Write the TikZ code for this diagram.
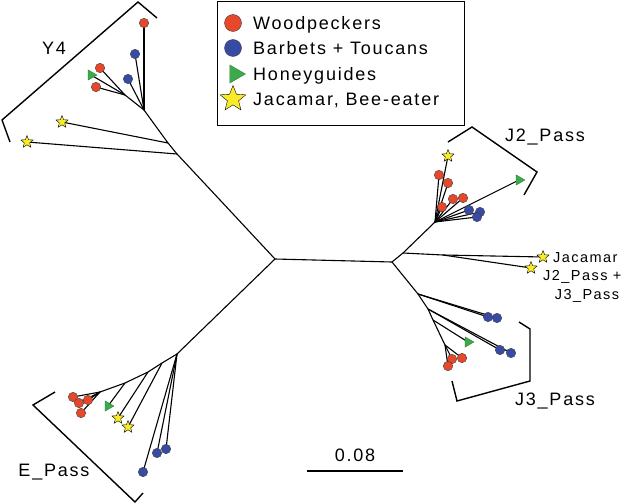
\documentclass[tikz,border=0pt]{standalone}
\usepackage{fontspec}
\setmainfont{Liberation Sans}[LetterSpace=10]
\usetikzlibrary{shapes.geometric}
\definecolor{wpred}{RGB}{232,72,42}
\definecolor{btblue}{RGB}{55,75,165}
\definecolor{hggreen}{RGB}{60,170,75}
\definecolor{jyellow}{RGB}{250,235,40}
\pgfdeclarelayer{bg}
\pgfsetlayers{bg,main}
\begin{document}
\begin{tikzpicture}[x=1pt,y=-1pt,
  br/.style={line width=1.4pt},
  edge/.style={line width=1.1pt},
  leafc/.style={circle, draw=black!75, line width=0.4pt, inner sep=0, minimum size=9.5pt},
  wp/.style={leafc, fill=wpred},
  bt/.style={leafc, fill=btblue},
  hg/.style={regular polygon, regular polygon sides=3, shape border rotate=-90, fill=hggreen, draw=hggreen!70!black, line width=0.3pt, inner sep=0, minimum size=12pt},
  jb/.style={star, star points=5, star point ratio=2.3, fill=jyellow, draw=black, line width=0.4pt, inner sep=0, minimum size=13pt},
  lbl/.style={font=\fontsize{18}{20}\selectfont, inner sep=0},
  sm/.style={font=\fontsize{14.5}{16}\selectfont, inner sep=0}]
\useasboundingbox (0,0) rectangle (626,503);

% legend
\node[draw, line width=0.9pt, inner sep=0, minimum width=247pt, minimum height=124pt, anchor=north west] (leg) at (217,1) {};
\node[wp, minimum size=17pt] (lw) at (233,23) {};
\node[bt, minimum size=17pt] (lb) at (233,48) {};
\node[hg, minimum size=21pt] (lh) at (235,74) {};
\node[jb, minimum size=27pt] (lj) at (233,99) {};
\node[lbl, anchor=base west] (tw) at (253,29.4) {Woodpeckers};
\node[lbl, anchor=base west] (tb) at (253,54.4) {Barbets + Toucans};
\node[lbl, anchor=base west] (th) at (253,80.4) {Honeyguides};
\node[lbl, anchor=base west] (tj) at (253,105.4) {Jacamar, Bee-eater};

% centre
\coordinate (C1) at (275,259);
\coordinate (C2) at (392,262);

% Y4
\coordinate (Ym) at (220,200);
\coordinate (Ya) at (177,154);
\coordinate (Yb) at (168,143);
\coordinate (Y) at (144,110);
\coordinate (Yl) at (125,95);
\node[jb] (ys1) at (62,122) {};
\node[jb] (ys2) at (27,142) {};
\node[wp] (yr1) at (144,23) {};
\node[bt] (yb1) at (135,54) {};
\node[bt] (yb2) at (128,79) {};
\node[wp] (yr2) at (100,68) {};
\node[hg] (yg) at (91,75) {};
\node[wp] (yr3) at (96,87) {};

% J2
\coordinate (P) at (403,253);
\coordinate (J) at (435,222);
\coordinate (Q) at (443,255);
\node[jb] (jac) at (543,257) {};
\node[jb] (j23) at (531,268) {};
\node[jb] (js) at (448,156) {};
\node[wp] (jr1) at (439,175) {};
\node[wp] (jr2) at (448,183) {};
\node[wp] (jr3) at (453,199) {};
\node[wp] (jr4) at (463,198) {};
\node[wp] (jr5) at (442,207) {};
\node[bt] (jb1) at (469,210) {};
\node[bt] (jb2) at (480,212) {};
\node[bt] (jb3) at (477,217) {};
\node[hg] (jg) at (519,180) {};

% J3
\coordinate (K1) at (418,294);
\coordinate (K2) at (428,309);
\coordinate (K3) at (433,320);
\coordinate (K4) at (445,345);
\node[bt] (kb1) at (488,317) {};
\node[bt] (kb2) at (497,318) {};
\node[bt] (kb3) at (500,350) {};
\node[bt] (kb4) at (511,353) {};
\node[hg] (kg) at (468,342) {};
\node[wp] (kr1) at (452,359) {};
\node[wp] (kr2) at (462,358) {};
\node[wp] (kr3) at (448,366) {};

% E
\coordinate (E0) at (177,354);
\coordinate (E1) at (162,363);
\coordinate (E2) at (148,372);
\coordinate (E3) at (125,383);
\coordinate (Er) at (100,392);
\node[wp] (er1) at (73,397) {};
\node[wp] (er2) at (79,403) {};
\node[wp] (er3) at (88,400) {};
\node[wp] (er4) at (81,413) {};
\node[hg] (eg) at (108,406) {};
\node[jb] (es1) at (118,418) {};
\node[jb] (es2) at (128,427) {};
\node[bt] (eb1) at (166,449) {};
\node[bt] (eb2) at (157,453) {};
\node[bt] (eb3) at (143,472) {};

\begin{pgfonlayer}{bg}
\draw[edge] (C1) -- (C2);
\draw[edge] (C1) -- (Ym) -- (Ya) -- (Yb) -- (Y);
\draw[edge] (Ya) -- (ys2.center);
\draw[edge] (Yb) -- (ys1.center);
\draw[edge] (Y) -- (yr1.center);
\draw[edge] (Y) -- (yb1.center);
\draw[edge] (Y) -- (yb2.center);
\draw[edge] (Y) -- (Yl);
\draw[edge] (Yl) -- (yr2.center);
\draw[edge] (Yl) -- (yg.center);
\draw[edge] (Yl) -- (yr3.center);

\draw[edge] (C2) -- (P) -- (J);
\draw[edge] (P) -- (Q) -- (jac.center);
\draw[edge] (Q) -- (j23.center);
\foreach \n in {js,jr1,jr2,jr3,jr4,jr5,jb1,jb2,jb3,jg}
  \draw[edge] (J) -- (\n.center);

\draw[edge] (C2) -- (K1) -- (K2) -- (K3) -- (K4);
\draw[edge] (K1) -- (kb1.center);
\draw[edge] (K1) -- (kb2.center);
\draw[edge] (K2) -- (kb3.center);
\draw[edge] (K2) -- (kb4.center);
\draw[edge] (K3) -- (kg.center);
\foreach \n in {kr1,kr2,kr3}
  \draw[edge] (K4) -- (\n.center);

\draw[edge] (C1) -- (E0) -- (E1) -- (E2) -- (E3) -- (Er);
\draw[edge] (E1) -- (es2.center);
\draw[edge] (E2) -- (es1.center);
\draw[edge] (E3) -- (eg.center);
\foreach \n in {er1,er2,er3,er4}
  \draw[edge] (Er) -- (\n.center);
\foreach \n in {eb1,eb2,eb3}
  \draw[edge] (E0) -- (\n.center);
\end{pgfonlayer}

% brackets
\draw[br] (10,142) -- (2,120) -- (138,2) -- (157,18);
\draw[br] (448,142) -- (472,127) -- (537,172) -- (524,195);
\draw[br] (519,322) -- (530,329) -- (530,381) -- (457,401) -- (452,381);
\draw[br] (55,392) -- (33,405) -- (135,502) -- (143,493);

% labels
\node[lbl, anchor=base] (ly4) at (54,54.4) {Y4};
\node[lbl, anchor=base] (lj2) at (545,141.4) {J2\_Pass};
\node[lbl, anchor=base] (lj3) at (555,405.4) {J3\_Pass};
\node[lbl, anchor=base] (lep) at (54,476.4) {E\_Pass};
\node[sm, anchor=base west] (ljac) at (553,262) {Jacamar};
\node[sm, anchor=base west] (lj23a) at (543,280.5) {J2\_Pass +};
\node[sm, anchor=base] (lj23b) at (587,299.5) {J3\_Pass};

% scale bar
\coordinate (sba) at (307,471);
\coordinate (sbb) at (403,471);
\draw[line width=1.2pt] (sba) -- (sbb);
\node[lbl, anchor=base] (sbt) at (355,461.4) {0.08};
\end{tikzpicture}
\end{document}
